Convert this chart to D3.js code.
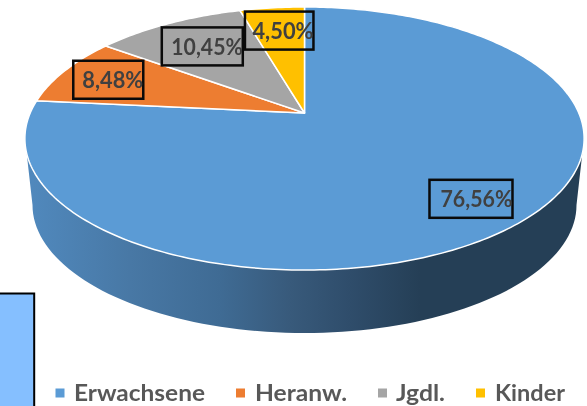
<!DOCTYPE html>
<html><head><meta charset="utf-8">
<script src="https://cdn.jsdelivr.net/npm/d3@7"></script>
<style>html,body{margin:0;padding:0;background:#fff;overflow:hidden}svg{display:block}text{font-family:Lato,"Open Sans",sans-serif;font-weight:700}</style>
</head><body><svg id="c" width="587" height="406"></svg>
<script>
const categories = ["Erwachsene","Heranw.","Jgdl.","Kinder"];
const shares = [76.56,8.48,10.45,4.50];
const shareLabels = ["76,56%","8,48%","10,45%","4,50%"];
const colors = ["#5B9BD5","#ED7D31","#A5A5A5","#FFC000"];

const svg = d3.select("#c");
const cx=304.5, apexY=113, A=274.3, B=126.6, k=0.194;
const project=(ang,r=1)=>{const u=r*Math.sin(ang),v=-r*Math.cos(ang),w=1-k*v;return [cx+A*u/w,apexY+B*v/w];};
const arcs=d3.pie().sort(null).value(d=>d)(shares);

const defs=svg.append("defs");
const grad=defs.append("linearGradient").attr("id","side").attr("gradientUnits","userSpaceOnUse")
 .attr("x1",0).attr("x2",587).attr("y1",0).attr("y2",0);
[[33,"#5088BC"],[130,"#4878A5"],[220,"#3F6B94"],[290,"#385A7B"],[350,"#2F4D6B"],[420,"#253F56"],[587,"#253F56"]]
 .forEach(s=>grad.append("stop").attr("offset",s[0]/587).attr("stop-color",s[1]));
defs.append("filter").attr("id","soft").attr("x","-5%").attr("y","-10%").attr("width","110%").attr("height","120%")
 .append("feGaussianBlur").attr("stdDeviation",0.35);

// side wall: lower ellipse
const lowCy=205,lowRx=272,lowRy=128,topCy=138.5,topRx=279.5,topRy=131.5;
const sidePts=[];
d3.range(0,181,2).forEach(d=>{const t=d*Math.PI/180;sidePts.push([cx+lowRx*Math.cos(t),lowCy+lowRy*Math.sin(t)]);});
d3.range(180,-1,-2).forEach(d=>{const t=d*Math.PI/180;sidePts.push([cx+topRx*Math.cos(t),topCy+topRy*Math.sin(t)]);});
svg.append("path").attr("d",d3.line()(sidePts)+"Z").attr("fill","url(#side)");

// slices
const slicePath=a=>{const n=Math.max(8,Math.ceil((a.endAngle-a.startAngle)*60));
 const pts=[[cx,apexY]];
 d3.range(n+1).forEach(i=>pts.push(project(a.startAngle+(a.endAngle-a.startAngle)*i/n)));
 return d3.line()(pts)+"Z";};
svg.selectAll("path.s").data(arcs).join("path").attr("class","s").attr("d",slicePath)
 .attr("fill",(d,i)=>colors[i]).attr("stroke","#fff").attr("stroke-width",1.5).attr("stroke-linejoin","round");

// labels
const nudges=[[0,1],[-2,1],[9.5,7],[1.5,4.5]];
const boxW=[83,70,81,68.5],boxH=38,textW=[72,61,71.5,61];
const lab=svg.selectAll("g.l").data(arcs).join("g").attr("class","l").attr("transform",(d,i)=>{
 const p=project((d.startAngle+d.endAngle)/2,0.8);return `translate(${p[0]+nudges[i][0]},${p[1]+nudges[i][1]})`;});
lab.append("rect").attr("x",(d,i)=>-boxW[i]/2).attr("y",-boxH/2).attr("width",(d,i)=>boxW[i]).attr("height",boxH)
 .attr("fill","none").attr("stroke","#0a0a0a").attr("stroke-width",2.5);
lab.append("text").attr("x",(d,i)=>boxW[i]/2-textW[i]).attr("y",8.5).attr("textLength",(d,i)=>textW[i]).attr("lengthAdjust","spacingAndGlyphs")
 .attr("font-size",23).attr("fill","#404040").attr("filter","url(#soft)").text((d,i)=>shareLabels[i]);

// left panel
svg.append("rect").attr("x",-3).attr("y",293.5).attr("width",37.2).attr("height",120).attr("fill","#85BFFF").attr("stroke","#000").attr("stroke-width",2);

// legend
const swatchX=[55.5,236,378,476], legendTextX=[74,255,396,495], legendTextW=[131,92,49,70];
const leg=svg.selectAll("g.k").data(categories).join("g").attr("class","k");
leg.append("rect").attr("x",(d,i)=>swatchX[i]).attr("y",388.5).attr("width",9).attr("height",9).attr("fill",(d,i)=>colors[i]);
leg.append("text").attr("x",(d,i)=>legendTextX[i]).attr("y",401).attr("textLength",(d,i)=>legendTextW[i]).attr("lengthAdjust","spacingAndGlyphs")
 .attr("font-size",23).attr("fill","#595959").attr("filter","url(#soft)").text(d=>d);
</script></body></html>
